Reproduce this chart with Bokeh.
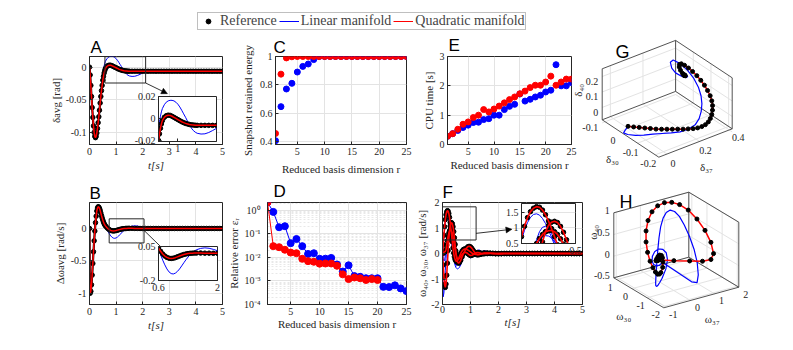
import numpy as np
from bokeh.plotting import figure
from bokeh.models import (Range1d, FixedTicker, Legend, LegendItem, Arrow, NormalHead,
                          Label, GridBox, BoxAnnotation)
from bokeh.embed import file_html
from bokeh.resources import INLINE
from bokeh.core.properties import value

# ----------------------------------------------------------------- data
T_GRID = [0, 0.025, 0.05, 0.075, 0.1, 0.125, 0.15, 0.175, 0.2, 0.225, 0.25, 0.275, 0.3,
          0.325, 0.35, 0.375, 0.4, 0.425, 0.45, 0.475, 0.5, 0.525, 0.55, 0.575, 0.6,
          0.65, 0.7, 0.75, 0.8, 0.85, 0.9, 0.95, 1.0, 1.05,
          1.1, 1.15, 1.2, 1.25, 1.3, 1.35, 1.4, 1.45, 1.5,
          1.6, 1.7, 1.8, 1.9, 2.0, 2.1, 2.2,
          2.3, 2.4, 2.5, 2.6, 2.7, 2.8, 2.9,
          3.0, 3.1, 3.2, 3.3, 3.4, 3.5, 3.6,
          3.7, 3.8, 3.9, 4.0, 4.1, 4.2, 4.3,
          4.4, 4.5, 4.6, 4.7, 4.8, 4.9, 5.0]
T_B = [0, 0.01, 0.025, 0.05, 0.075, 0.1, 0.125, 0.15, 0.175, 0.2, 0.225, 0.25, 0.275,
       0.3, 0.325, 0.35, 0.375, 0.4, 0.425, 0.45, 0.475, 0.5, 0.525, 0.55, 0.575, 0.6,
       0.65, 0.7, 0.75, 0.8, 0.85, 0.9, 0.95, 1.0, 1.05,
       1.1, 1.15, 1.2, 1.25, 1.3, 1.35, 1.4, 1.45, 1.5,
       1.6, 1.7, 1.8, 1.9, 2.0, 2.1, 2.2,
       2.3, 2.4, 2.5, 2.6, 2.7, 2.8, 2.9,
       3.0, 3.1, 3.2, 3.3, 3.4, 3.5, 3.6,
       3.7, 3.8, 3.9, 4.0, 4.1, 4.2, 4.3,
       4.4, 4.5, 4.6, 4.7, 4.8, 4.9, 5.0]

# Panel A: delta_avg [rad]
A_REF = [0, -0.012, -0.028, -0.045, -0.062, -0.077, -0.090, -0.100, -0.106, -0.108, -0.106, -0.101, -0.094,
         -0.085, -0.076, -0.066, -0.055, -0.045, -0.036, -0.028, -0.020, -0.014, -0.009, -0.005, -0.002,
         0.001, 0.0025, 0.003, 0.0028, 0.002, 0.001, 0.0, -0.001, -0.002,
         -0.003, -0.0038, -0.0045, -0.005, -0.0055, -0.0058, -0.006, -0.0062, -0.0063,
         -0.0063, -0.0063, -0.0063, -0.0063, -0.0063, -0.0063, -0.0063,
         -0.0063, -0.0063, -0.0063, -0.0063, -0.0063, -0.0063, -0.0063,
         -0.0063, -0.0063, -0.0063, -0.0063, -0.0063, -0.0063, -0.0063,
         -0.0063, -0.0063, -0.0063, -0.0063, -0.0063, -0.0063, -0.0063,
         -0.0063, -0.0063, -0.0063, -0.0063, -0.0063, -0.0063, -0.0063]
A_LIN = [0, -0.012, -0.028, -0.045, -0.062, -0.077, -0.090, -0.100, -0.106, -0.108, -0.106, -0.101, -0.094,
         -0.085, -0.075, -0.064, -0.052, -0.040, -0.029, -0.019, -0.011, -0.004, 0.002, 0.006, 0.009,
         0.0125, 0.0148, 0.016, 0.0165, 0.0165, 0.016, 0.0148, 0.013, 0.0105,
         0.0075, 0.0042, 0.001, -0.0025, -0.0058, -0.0088, -0.011, -0.0125, -0.0135,
         -0.0142, -0.014, -0.0128, -0.011, -0.009, -0.0072, -0.0058,
         -0.005, -0.0047, -0.0048, -0.0053, -0.0058, -0.0062, -0.0065,
         -0.0066, -0.0066, -0.0065, -0.0064, -0.0063, -0.0063, -0.0063,
         -0.0063, -0.0063, -0.0063, -0.0063, -0.0063, -0.0063, -0.0063,
         -0.0063, -0.0063, -0.0063, -0.0063, -0.0063, -0.0063, -0.0063]
A_QUAD = list(A_REF)   # quadratic manifold coincides with the reference

# Panel B: delta omega_avg [rad/s]
B_REF = [0, -0.8, -1.0, -0.97, -0.87, -0.72, -0.54, -0.36, -0.19, -0.04, 0.09, 0.19, 0.27,
         0.315, 0.335, 0.33, 0.31, 0.28, 0.24, 0.2, 0.165, 0.13, 0.1, 0.075, 0.055, 0.04,
         0.015, -0.005, -0.02, -0.03, -0.036, -0.038, -0.036, -0.032, -0.026,
         -0.02, -0.014, -0.009, -0.005, -0.002, 0.0, 0.001, 0.002, 0.002,
         0.002, 0.001, 0.001, 0, 0, 0, 0,
         0, 0, 0, 0, 0, 0, 0,
         0, 0, 0, 0, 0, 0, 0,
         0, 0, 0, 0, 0, 0, 0,
         0, 0, 0, 0, 0, 0, 0]
B_LIN = [0, -0.8, -1.0, -0.97, -0.87, -0.72, -0.54, -0.36, -0.19, -0.04, 0.09, 0.19, 0.27,
         0.315, 0.335, 0.33, 0.31, 0.28, 0.24, 0.2, 0.16, 0.125, 0.095, 0.07, 0.05, 0.03,
         -0.01, -0.05, -0.085, -0.115, -0.137, -0.149, -0.152, -0.146, -0.133,
         -0.115, -0.093, -0.07, -0.048, -0.028, -0.01, 0.005, 0.017, 0.026,
         0.036, 0.04, 0.037, 0.029, 0.019, 0.009, 0.001,
         -0.005, -0.008, -0.009, -0.008, -0.006, -0.004, -0.002,
         -0.001, 0, 0, 0, 0, 0, 0,
         0, 0, 0, 0, 0, 0, 0,
         0, 0, 0, 0, 0, 0, 0]
B_QUAD = list(B_REF)

# Panel C: snapshot retained energy vs reduced basis dimension
R = list(range(1, 26))
C_LIN = [0.404, 0.645, 0.77, 0.81, 0.89, 0.93, 0.947, 0.978, 1.0, 1.0, 1.0, 1.0, 1.0, 1.0,
         1.0, 1.0, 1.0, 1.0, 1.0, 1.0, 1.0, 1.0, 1.0, 1.0, 1.0]
C_QUAD = [0.455, 0.875, 0.99, 0.998, 1.0, 1.0, 1.0, 1.0, 1.0, 1.0, 1.0, 1.0, 1.0, 1.0, 1.0,
          1.0, 1.0, 1.0, 1.0, 1.0, 1.0, 1.0, 1.0, 1.0, 1.0]

# Panel D: relative error
R_D_QUAD = list(range(1, 21))
D_LIN = [2.2, 0.85, 0.19, 0.21, 0.04, 0.06, 0.03, 0.014, 0.015, 0.0087, 0.0088, 0.0095,
         0.005, 0.0025, 0.0046, 0.0016, 0.0015, 0.0013, 0.0013, 0.0013, 0.00056, 0.00055,
         0.00065, 0.00048, 0.00037]
D_QUAD = [2.2, 0.03, 0.027, 0.021, 0.016, 0.015, 0.0087, 0.0069, 0.0065, 0.0054, 0.0055,
          0.0055, 0.0044, 0.0019, 0.0012, 0.0014, 0.0013, 0.0011, 0.0012, 0.0011]

# Panel E: CPU time [s]
E_LIN = [0.28, 0.37, 0.48, 0.58, 0.66, 0.75, 0.76, 0.85, 0.88, 1.0, 1.0, 1.19, 1.3, 1.37,
         1.72, 1.48, 1.54, 1.62, 1.68, 1.79, 1.85, 2.72, 2.0, 2.0, 2.11]
E_QUAD = [0.28, 0.37, 0.52, 0.69, 0.77, 0.92, 1.0, 1.19, 1.11, 1.21, 1.31, 1.42, 1.53, 1.62,
          1.73, 1.82, 1.94, 2.02, 2.02, 2.13, 2.33, 2.02, 2.13, 2.23, 2.23]

# Panel F (and H): omega_37, omega_30, omega_40 [rad/s]
W37_REF = [0.0, 0.35, 0.72, 1.05, 1.33, 1.52, 1.63, 1.68, 1.66, 1.57, 1.42, 1.22, 0.98,
           0.72, 0.46, 0.22, 0.02, -0.13, -0.23, -0.29, -0.31, -0.30, -0.26, -0.20, -0.13,
           0.0, 0.1, 0.16, 0.18, 0.17, 0.14, 0.1, 0.06, 0.02,
           -0.01, -0.03, -0.04, -0.04, -0.03, -0.02, -0.01, 0.0, 0.01,
           0.01, 0.01, 0.005, 0.0, -0.005, -0.005, 0,
           0, 0, 0, 0, 0, 0, 0,
           0, 0, 0, 0, 0, 0, 0,
           0, 0, 0, 0, 0, 0, 0,
           0, 0, 0, 0, 0, 0, 0]
W30_REF = [0.0, -0.45, -0.9, -1.22, -1.33, -1.2, -0.85, -0.38, 0.12, 0.55, 0.88, 1.08, 1.18,
           1.21, 1.17, 1.05, 0.86, 0.62, 0.36, 0.1, -0.12, -0.27, -0.35, -0.38, -0.36,
           -0.27, -0.13, 0.0, 0.1, 0.2, 0.26, 0.28, 0.26, 0.2,
           0.12, 0.04, -0.02, -0.05, -0.05, -0.03, -0.01, 0.01, 0.02,
           0.02, 0.01, 0.0, -0.01, -0.01, -0.005, 0,
           0, 0, 0, 0, 0, 0, 0,
           0, 0, 0, 0, 0, 0, 0,
           0, 0, 0, 0, 0, 0, 0,
           0, 0, 0, 0, 0, 0, 0]
W40_REF = [0.0, 0.02, 0.05, 0.06, 0.08, 0.16, 0.33, 0.5, 0.66, 0.79, 0.87, 0.91, 0.92,
           0.88, 0.79, 0.65, 0.48, 0.3, 0.13, -0.01, -0.11, -0.18, -0.22, -0.22, -0.2,
           -0.12, -0.04, 0.02, 0.05, 0.04, 0.0, -0.05, -0.08, -0.07,
           -0.04, 0.0, 0.03, 0.04, 0.03, 0.02, 0.0, -0.01, -0.01,
           -0.005, 0, 0, 0, 0, 0, 0,
           0, 0, 0, 0, 0, 0, 0,
           0, 0, 0, 0, 0, 0, 0,
           0, 0, 0, 0, 0, 0, 0,
           0, 0, 0, 0, 0, 0, 0]
W37_LIN = [0.0, 0.3, 0.62, 0.92, 1.17, 1.34, 1.43, 1.45, 1.41, 1.3, 1.14, 0.93, 0.7,
           0.46, 0.23, 0.02, -0.16, -0.3, -0.4, -0.46, -0.48, -0.46, -0.4, -0.31, -0.2,
           0.02, 0.18, 0.24, 0.2, 0.1, -0.02, -0.12, -0.17, -0.16,
           -0.1, -0.02, 0.06, 0.12, 0.14, 0.12, 0.07, 0.01, -0.04,
           -0.08, -0.07, -0.02, 0.03, 0.05, 0.04, 0.01,
           -0.01, -0.02, -0.01, 0.0, 0, 0, 0,
           0, 0, 0, 0, 0, 0, 0,
           0, 0, 0, 0, 0, 0, 0,
           0, 0, 0, 0, 0, 0, 0]
W30_LIN = [0.0, -1.7, -1.55, -1.15, -0.68, -0.2, 0.25, 0.62, 0.88, 1.02, 1.05, 0.98, 0.82,
           0.6, 0.34, 0.08, -0.15, -0.33, -0.46, -0.54, -0.58, -0.6, -0.6, -0.58, -0.55,
           -0.45, -0.3, -0.12, 0.05, 0.17, 0.23, 0.22, 0.16, 0.07,
           -0.03, -0.1, -0.13, -0.12, -0.07, 0.0, 0.06, 0.1, 0.11,
           0.08, 0.02, -0.04, -0.06, -0.04, 0.0, 0.03,
           0.03, 0.01, -0.01, -0.01, 0, 0, 0,
           0, 0, 0, 0, 0, 0, 0,
           0, 0, 0, 0, 0, 0, 0,
           0, 0, 0, 0, 0, 0, 0]
W40_LIN = [0.0, -0.2, -0.3, -0.25, -0.1, 0.08, 0.27, 0.45, 0.6, 0.7, 0.75, 0.74, 0.68,
           0.56, 0.4, 0.22, 0.04, -0.12, -0.25, -0.34, -0.4, -0.42, -0.4, -0.35, -0.28,
           -0.12, 0.04, 0.15, 0.2, 0.2, 0.14, 0.05, -0.04, -0.1,
           -0.12, -0.1, -0.05, 0.01, 0.06, 0.08, 0.07, 0.04, 0.0,
           -0.05, -0.05, -0.02, 0.02, 0.03, 0.02, 0.0,
           -0.01, -0.01, 0.0, 0, 0, 0, 0,
           0, 0, 0, 0, 0, 0, 0,
           0, 0, 0, 0, 0, 0, 0,
           0, 0, 0, 0, 0, 0, 0]
W37_QUAD = list(W37_REF)
W30_QUAD = list(W30_REF)
W40_QUAD = list(W40_REF)

# Panel G: trajectory in (delta_37, delta_30, delta_40)
G_REF_D37 = [0.000, 0.018, 0.036, 0.054, 0.072, 0.090, 0.110, 0.130, 0.150, 0.170, 0.190,
             0.210, 0.230, 0.250, 0.270, 0.290, 0.310, 0.328, 0.343, 0.355, 0.363, 0.367,
             0.368, 0.366, 0.362, 0.356, 0.348, 0.338, 0.327, 0.316, 0.305, 0.296, 0.290,
             0.289, 0.292, 0.297, 0.302, 0.305, 0.304, 0.301, 0.299, 0.300]
G_REF_D30 = [0.000, -0.015, -0.030, -0.045, -0.060, -0.075, -0.088, -0.100, -0.112, -0.124,
             -0.136, -0.146, -0.156, -0.163, -0.168, -0.170, -0.168, -0.163, -0.157, -0.150,
             -0.143, -0.135, -0.125, -0.112, -0.098, -0.083, -0.068, -0.053, -0.040, -0.028,
             -0.020, -0.018, -0.022, -0.030, -0.038, -0.043, -0.044, -0.042, -0.040, -0.039,
             -0.040, -0.040]
G_REF_D40 = [-0.067, -0.067, -0.066, -0.066, -0.065, -0.065, -0.064, -0.063, -0.062, -0.061,
             -0.060, -0.059, -0.058, -0.056, -0.052, -0.046, -0.038, -0.027, -0.012, 0.006,
             0.027, 0.050, 0.075, 0.100, 0.125, 0.148, 0.170, 0.190, 0.207, 0.220, 0.228,
             0.226, 0.215, 0.200, 0.186, 0.176, 0.170, 0.168, 0.171, 0.173, 0.172, 0.170]
G_LIN_D37 = [0.000, -0.025, -0.045, -0.040, -0.020, 0.010, 0.045, 0.080, 0.115, 0.150, 0.185,
             0.212, 0.232, 0.248, 0.262, 0.274, 0.285, 0.295, 0.300, 0.295, 0.282, 0.270,
             0.268, 0.275, 0.290, 0.305, 0.312, 0.306, 0.300]
G_LIN_D30 = [0.000, -0.008, -0.016, -0.035, -0.060, -0.080, -0.098, -0.118, -0.138, -0.156,
             -0.172, -0.184, -0.188, -0.185, -0.176, -0.160, -0.135, -0.100, -0.060, -0.020,
             0.005, 0.010, 0.000, -0.015, -0.035, -0.048, -0.050, -0.044, -0.040]
G_LIN_D40 = [-0.067, -0.074, -0.079, -0.077, -0.072, -0.067, -0.062, -0.057, -0.052, -0.046,
             -0.030, -0.005, 0.030, 0.068, 0.105, 0.140, 0.172, 0.198, 0.218, 0.235, 0.243,
             0.230, 0.200, 0.178, 0.165, 0.160, 0.166, 0.172, 0.170]
G_QUAD_D37 = list(G_REF_D37)
G_QUAD_D30 = list(G_REF_D30)
G_QUAD_D40 = list(G_REF_D40)

_bad = {n: len(s) for n, s in dict(A_REF=A_REF, A_LIN=A_LIN, W37_REF=W37_REF, W30_REF=W30_REF,
                                   W40_REF=W40_REF, W37_LIN=W37_LIN, W30_LIN=W30_LIN,
                                   W40_LIN=W40_LIN).items() if len(s) != len(T_GRID)}
_bad.update({n: len(s) for n, s in dict(B_REF=B_REF, B_LIN=B_LIN).items() if len(s) != len(T_B)})
assert not _bad, (len(T_GRID), len(T_B), _bad)

# ----------------------------------------------------------------- style
SERIF = "Liberation Serif"
SANS = "Liberation Sans"
AX = "#262626"
GRID = "#e3e3e3"
BLUE = "#0000ff"
RED = "#ff0000"
PLACED = []   # (figure, page box) for the grid layout


def make_panel(box, frame, xr, yr, y_type="linear"):
    x0, y0, x1, y1 = box
    fl, ft, fr, fb = frame
    p = figure(width=x1 - x0, height=y1 - y0, x_range=Range1d(*xr), y_range=Range1d(*yr),
               y_axis_type=y_type, output_backend="svg", toolbar_location=None,
               min_border_left=fl - x0, min_border_top=ft - y0,
               min_border_right=x1 - fr, min_border_bottom=y1 - fb)
    p.border_fill_color = None
    p.background_fill_color = "white"
    p.outline_line_color = AX
    p.outline_line_width = 1
    PLACED.append((p, box))
    return p


def style_axes(p, xt, xl, yt, yl, xlabel="", ylabel="", x_italic=False,
               xstand=1, ystand=1, grid=True, minor=None):
    xtk = FixedTicker(ticks=xt)
    ytk = FixedTicker(ticks=yt, minor_ticks=minor or [])
    p.xaxis.ticker = xtk
    p.yaxis.ticker = ytk
    p.xgrid.ticker = xtk
    p.ygrid.ticker = ytk
    p.xaxis.major_label_overrides = dict(zip(xt, xl))
    p.yaxis.major_label_overrides = dict(zip(yt, yl))
    for ax in (p.xaxis[0], p.yaxis[0]):
        ax.axis_line_color = AX
        ax.major_tick_line_color = AX
        ax.major_tick_in = 3
        ax.major_tick_out = 0
        ax.minor_tick_line_color = None
        ax.major_label_text_font = SERIF
        ax.major_label_text_font_size = "10px"
        ax.major_label_text_color = AX
        ax.major_label_standoff = 3
        ax.axis_label_text_font = SERIF
        ax.axis_label_text_font_size = "11px"
        ax.axis_label_text_font_style = "normal"
        ax.axis_label_text_color = AX
    if xlabel:
        p.xaxis.axis_label = xlabel
    if ylabel:
        p.yaxis.axis_label = ylabel
    p.xaxis.axis_label_standoff = xstand
    p.yaxis.axis_label_standoff = ystand
    if x_italic:
        p.xaxis.axis_label_text_font_style = "italic"
    if grid:
        p.xgrid.grid_line_color = GRID
        p.ygrid.grid_line_color = GRID
    else:
        p.xgrid.grid_line_color = None
        p.ygrid.grid_line_color = None


def letter(p, s, dx, standoff):
    p.title.text = s
    p.title.text_font = SANS
    p.title.text_font_size = "17px"
    p.title.text_font_style = "normal"
    p.title.text_color = "black"
    p.title.align = "left"
    p.title.offset = dx
    p.title.standoff = standoff


def draw_series(p, t, ref, lin, quad, dot=4.5):
    p.line(t, lin, line_color=BLUE, line_width=1)
    p.line(t, ref, line_color="black", line_width=2.2)
    p.scatter(t, ref, size=dot, color="black")
    p.line(t, quad, line_color=RED, line_width=1.5)


def zoom_box(p, l, r, b, t):
    p.add_layout(BoxAnnotation(left=l, right=r, bottom=b, top=t, fill_alpha=0,
                               line_color=AX, line_alpha=1, line_width=1))


def arrow(p, xs, ys, xe, ye):
    p.add_layout(Arrow(end=NormalHead(size=6, fill_color="black", line_color="black",
                                      line_width=0.5),
                       x_start=xs, y_start=ys, x_end=xe, y_end=ye,
                       line_color="black", line_width=0.8))


T05 = [0, 1, 2, 3, 4, 5]
T05L = ["0", "1", "2", "3", "4", "5"]
RT = [5, 10, 15, 20, 25]
RTL = ["5", "10", "15", "20", "25"]

# ---------------- legend strip
lg = figure(width=340, height=19, x_range=Range1d(0, 1), y_range=Range1d(0, 1),
            output_backend="svg", toolbar_location=None, min_border=0,
            x_axis_location=None, y_axis_location=None)
PLACED.append((lg, (197, 12, 537, 31)))
lg.xgrid.visible = False
lg.ygrid.visible = False
lg.outline_line_color = None
lg.background_fill_color = None
lg.border_fill_color = None
r1 = lg.scatter([np.nan], [np.nan], size=6, color="black")
r2 = lg.line([np.nan, np.nan], [np.nan, np.nan], line_color=BLUE, line_width=1)
r3 = lg.line([np.nan, np.nan], [np.nan, np.nan], line_color=RED, line_width=1)
leg = Legend(items=[LegendItem(label="Reference", renderers=[r1]),
                    LegendItem(label="Linear manifold", renderers=[r2]),
                    LegendItem(label="Quadratic manifold", renderers=[r3])],
             orientation="horizontal", location="top_left", margin=0, padding=0, spacing=2,
             label_standoff=2, glyph_width=20, glyph_height=12, label_height=12,
             label_text_font=SERIF, label_text_font_size="14px",
             border_line_color="#808080", border_line_width=1,
             background_fill_color="white", background_fill_alpha=1)
lg.add_layout(leg, "center")

# ---------------- A
pA = make_panel((8, 4, 240, 200), (89, 52, 227, 154), (0, 5), (-0.1185, 0.0163))
style_axes(pA, T05, T05L, [-0.1, -0.05, 0], ["-0.1", "-0.05", "0"],
           xlabel="t[s]", ylabel="δavg [rad]", x_italic=True, xstand=1, ystand=1)
letter(pA, "A", 1, 0)
draw_series(pA, T_GRID, A_REF, A_LIN, A_QUAD)
zoom_box(pA, 0.58, 2.11, -0.0243, 0.016)
arrow(pA, 2.11, -0.0243, 2.93, -0.0406)

# ---------------- B
pB = make_panel((8, 150, 240, 350), (82, 198, 222, 304), (0, 5), (-1.174, 0.401))
style_axes(pB, T05, T05L, [-1, -0.5, 0], ["-1", "-0.5", "0"],
           xlabel="t[s]", ylabel="Δωavg [rad/s]", x_italic=True, xstand=1, ystand=2)
letter(pB, "B", 0, 0)
draw_series(pB, T_B, B_REF, B_LIN, B_QUAD)
zoom_box(pB, 0.74, 2.05, -0.223, 0.149)
arrow(pB, 2.05, -0.03, 3.0, -0.41)

# ---------------- C
pC = make_panel((222, 4, 420, 200), (275, 53, 406, 148), (1, 25), (0.377, 1.0))
style_axes(pC, RT, RTL, [0.4, 0.6, 0.8, 1], ["0.4", "0.6", "0.8", "1"],
           xlabel="Reduced basis dimension r", ylabel="Snapshot retained energy",
           xstand=5, ystand=3)
letter(pC, "C", -2, 0)
pC.scatter(R, C_LIN, size=6, color=BLUE)
pC.scatter(R, C_QUAD, size=6, color=RED)

# ---------------- D
minor_d = [m * 10.0 ** k for k in range(-4, 1) for m in range(2, 10) if m * 10.0 ** k < 2.13]
pD = make_panel((212, 150, 420, 350), (267, 201, 406, 307), (1, 25), (1e-4, 2.13), "log")
style_axes(pD, RT, RTL, [1e-4, 1e-3, 1e-2, 1e-1, 1],
           ["10⁻⁴", "10⁻³", "10⁻²", "10⁻¹", "10⁰"],
           xlabel="Reduced basis dimension r", ylabel="Relative error εᵣ",
           xstand=0, ystand=1, minor=minor_d)
pD.ygrid.minor_grid_line_color = "#e8e8e8"
pD.ygrid.minor_grid_line_dash = "2 2"
letter(pD, "D", 6, 4)
pD.line(R, D_LIN, line_color=BLUE, line_width=1)
pD.scatter(R, D_LIN, size=7, color=BLUE)
pD.line(R_D_QUAD, D_QUAD, line_color=RED, line_width=1)
pD.scatter(R_D_QUAD, D_QUAD, size=7, color=RED)

# ---------------- E
pE = make_panel((402, 4, 590, 200), (447, 56, 571, 144), (1, 25), (0, 3))
style_axes(pE, RT, RTL, [0, 1, 2, 3], ["0", "1", "2", "3"],
           xlabel="Reduced basis dimension r", ylabel="CPU time [s]", xstand=1, ystand=2)
letter(pE, "E", 1, 3)
pE.scatter(R, E_LIN, size=6, color=BLUE)
pE.scatter(R, E_QUAD, size=6, color=RED)

# ---------------- F
pF = make_panel((395, 150, 595, 350), (442, 202, 582, 315), (0, 5), (-2, 2))
style_axes(pF, T05, T05L, [-2, -1, 0, 1, 2], ["-2", "-1", "0", "1", "2"],
           xlabel="t[s]", ylabel="ω₄₀, ω₃₀, ω₃₇ [rad/s]", x_italic=True, xstand=0, ystand=0)
pF.xaxis.major_label_standoff = 1
letter(pF, "F", 0, 2)
for lin in (W37_LIN, W30_LIN, W40_LIN):
    pF.line(T_GRID, lin, line_color=BLUE, line_width=1)
for ref in (W37_REF, W30_REF, W40_REF):
    pF.scatter(T_GRID, ref, size=4.5, color="black")
for quad in (W37_QUAD, W30_QUAD, W40_QUAD):
    pF.line(T_GRID, quad, line_color=RED, line_width=1.6)
zoom_box(pF, 0.0, 1.2, 0.53, 1.83)
arrow(pF, 1.2, 0.79, 2.48, 0.95)

# ---------------- 3-D panels (G, H): projected boxes in page-pixel coordinates
G_BOX = dict(front=(658.3, 156.7), ex=(73.4, -28.4), ey=(-56.6, -37.4), ez=(0.0, -51.0),
             lim=((-0.05, 0.4), (-0.22, 0.1), (-0.08, 0.25)))
H_BOX = dict(front=(663.3, 307.3), ex=(75.0, -20.6), ey=(-50.0, -30.0), ez=(0.0, -65.0),
             lim=((-1.1, 2.0), (-2.1, 1.2), (-0.5, 1.0)))


def proj(box, a, b, c):
    (x0, x1), (y0, y1), (z0, z1) = box["lim"]
    u = (np.asarray(a, float) - x0) / (x1 - x0)
    v = (np.asarray(b, float) - y0) / (y1 - y0)
    w = (np.asarray(c, float) - z0) / (z1 - z0)
    fx, fy = box["front"]
    X = fx + u * box["ex"][0] + v * box["ey"][0] + w * box["ez"][0]
    Y = fy + u * box["ex"][1] + v * box["ey"][1] + w * box["ez"][1]
    return X, Y


def make_3d(box, letter_xy, letter_text):
    x0, y0, x1, y1 = box
    p = figure(width=x1 - x0, height=y1 - y0, x_range=Range1d(x0, x1),
               y_range=Range1d(y1, y0), output_backend="svg", toolbar_location=None,
               min_border=0, x_axis_location=None, y_axis_location=None)
    p.xgrid.visible = False
    p.ygrid.visible = False
    p.outline_line_color = None
    p.background_fill_color = None
    p.border_fill_color = None
    p.add_layout(Label(x=letter_xy[0], y=letter_xy[1], text=letter_text, text_font=SANS,
                       text_font_size="18px", text_baseline="alphabetic", text_color="black"))
    PLACED.append((p, box))
    return p


def draw_box(p, box, ticks, labels, names, off):
    (x0, x1), (y0, y1), (z0, z1) = box["lim"]
    xt, yt, zt = ticks
    gx, gy = [], []

    def seg(a, b, xs_, ys_):
        X, Y = proj(box, [a[0], b[0]], [a[1], b[1]], [a[2], b[2]])
        xs_.append(list(X))
        ys_.append(list(Y))

    for t in xt:
        seg((t, y0, z0), (t, y1, z0), gx, gy)
        seg((t, y1, z0), (t, y1, z1), gx, gy)
    for t in yt:
        seg((x0, t, z0), (x1, t, z0), gx, gy)
        seg((x1, t, z0), (x1, t, z1), gx, gy)
    for t in zt:
        seg((x0, y1, t), (x1, y1, t), gx, gy)
        seg((x1, y1, t), (x1, y0, t), gx, gy)
    p.multi_line(gx, gy, line_color=GRID, line_width=1)
    ex_, ey_ = [], []
    edges = [((x0, y1, z0), (x0, y1, z1)), ((x1, y0, z0), (x1, y0, z1)),
             ((x1, y1, z0), (x1, y1, z1)), ((x0, y1, z1), (x1, y1, z1)),
             ((x1, y1, z1), (x1, y0, z1)), ((x0, y1, z0), (x0, y0, z0)),
             ((x0, y0, z0), (x1, y0, z0)), ((x0, y1, z0), (x1, y1, z0)),
             ((x1, y1, z0), (x1, y0, z0))]
    for a, b in edges:
        seg(a, b, ex_, ey_)
    p.multi_line(ex_, ey_, line_color="#404040", line_width=0.9)
    X, Y = proj(box, xt, [y0] * len(xt), [z0] * len(xt))
    p.text(X + off[0][0], Y + off[0][1], text=labels[0], text_font=value(SERIF),
           text_font_size="10px", text_align="center", text_baseline="middle", text_color=AX)
    X, Y = proj(box, [x0] * len(yt), yt, [z0] * len(yt))
    p.text(X + off[1][0], Y + off[1][1], text=labels[1], text_font=value(SERIF),
           text_font_size="10px", text_align="center", text_baseline="middle", text_color=AX)
    X, Y = proj(box, [x0] * len(zt), [y1] * len(zt), zt)
    p.text(X + off[2][0], Y + off[2][1], text=labels[2], text_font=value(SERIF),
           text_font_size="10px", text_align="right", text_baseline="middle", text_color=AX)
    X, Y = proj(box, [(x0 + x1) / 2], [y0], [z0])
    p.text(X + off[3][0], Y + off[3][1], text=[names[0]], text_font=value(SERIF),
           text_font_size="11px", text_align="center", text_baseline="middle", text_color=AX)
    X, Y = proj(box, [x0], [(y0 + y1) / 2], [z0])
    p.text(X + off[4][0], Y + off[4][1], text=[names[1]], text_font=value(SERIF),
           text_font_size="11px", text_align="center", text_baseline="middle", text_color=AX)
    X, Y = proj(box, [x0], [y1], [(z0 + z1) / 2])
    p.text(X + off[5][0], Y + off[5][1], text=[names[2]], text_font=value(SERIF),
           text_font_size="11px", text_align="center", text_baseline="middle",
           angle=np.pi / 2, text_color=AX)


pG = make_3d((566, 28, 785, 180), (615, 51), "G")
draw_box(pG, G_BOX,
         ([0, 0.2, 0.4], [-0.2, -0.1, 0], [-0.1, 0, 0.1, 0.2]),
         (["0", "0.2", "0.4"], ["-0.2", "-0.1", "0"], ["-0.1", "0", "0.1", "0.2"]),
         ("δ₃₇", "δ₃₀", "δ₄₀"),
         ((6, 9), (-7, 9), (-4, 5), (11, 24), (-18, 20), (-24, -4)))
X, Y = proj(G_BOX, G_LIN_D37, G_LIN_D30, G_LIN_D40)
pG.line(X, Y, line_color=BLUE, line_width=1.2)
X, Y = proj(G_BOX, G_QUAD_D37, G_QUAD_D30, G_QUAD_D40)
pG.line(X, Y, line_color=RED, line_width=1.5)
X, Y = proj(G_BOX, G_REF_D37, G_REF_D30, G_REF_D40)
pG.scatter(X, Y, size=4, color="black")

pH = make_3d((578, 176, 785, 342), (619, 201.5), "H")
draw_box(pH, H_BOX,
         ([-1, 0, 1, 2], [-2, -1, 0, 1], [-0.5, 0, 0.5, 1]),
         (["-1", "0", "1", "2"], ["-2", "-1", "0", "1"], ["-0.5", "0", "0.5", "1"]),
         ("ω₃₇", "ω₃₀", "ω₄₀"),
         ((7, 7), (-6.5, 8), (-4, -2), (11, 21), (-15, 23), (-21, -13)))
X, Y = proj(H_BOX, W37_LIN, W30_LIN, W40_LIN)
pH.line(X, Y, line_color=BLUE, line_width=1.2)
X, Y = proj(H_BOX, W37_QUAD, W30_QUAD, W40_QUAD)
pH.line(X, Y, line_color=RED, line_width=1.5)
X, Y = proj(H_BOX, W37_REF, W30_REF, W40_REF)
pH.scatter(X, Y, size=4, color="black")

# ---------------- insets (last, so they sit on top)
iA = make_panel((120, 88, 222, 166), (158, 96, 216, 141), (0.5, 2.0), (-0.021, 0.02))
style_axes(iA, [1], ["1"], [-0.02, 0, 0.02], ["-0.02", "0", "0.02"], grid=False)
draw_series(iA, T_GRID, A_REF, A_LIN, A_QUAD)

iB = make_panel((120, 238, 224, 306), (157, 246, 217, 280), (0.6, 2.0), (-0.2, 0.05))
style_axes(iB, [0.6, 2], ["0.6", "2"], [-0.2, 0.05], ["-0.2", "0.05"], grid=False)
draw_series(iB, T_B, B_REF, B_LIN, B_QUAD)

iF = make_panel((492, 197, 588, 270), (521, 203, 575, 243), (0.05, 0.5), (0.5, 1.78))
style_axes(iF, [0.5], ["0.5"], [0.5, 1, 1.5], ["0.5", "1", "1.5"], grid=True)
for lin in (W37_LIN, W30_LIN, W40_LIN):
    iF.line(T_GRID, lin, line_color=BLUE, line_width=1)
for ref in (W37_REF, W30_REF, W40_REF):
    iF.scatter(T_GRID, ref, size=4.5, color="black")
for quad in (W37_QUAD, W30_QUAD, W40_QUAD):
    iF.line(T_GRID, quad, line_color=RED, line_width=1.6)

# ---------------- grid layout: pixel tracks (page origin at 0,0) so figures may overlap
xs = sorted({0} | {b[0] for _, b in PLACED} | {b[2] for _, b in PLACED})
ys = sorted({0} | {b[1] for _, b in PLACED} | {b[3] for _, b in PLACED})
cols = [f"{xs[i + 1] - xs[i]}px" for i in range(len(xs) - 1)]
rows = [f"{ys[i + 1] - ys[i]}px" for i in range(len(ys) - 1)]
children = []
for fig, (x0, y0, x1, y1) in PLACED:
    r0, c0 = ys.index(y0), xs.index(x0)
    children.append((fig, r0, c0, ys.index(y1) - r0, xs.index(x1) - c0))
layout = GridBox(children=children, rows=rows, cols=cols, spacing=0)

open("out.html", "w").write(file_html(layout, INLINE, title="ROM comparison"))
